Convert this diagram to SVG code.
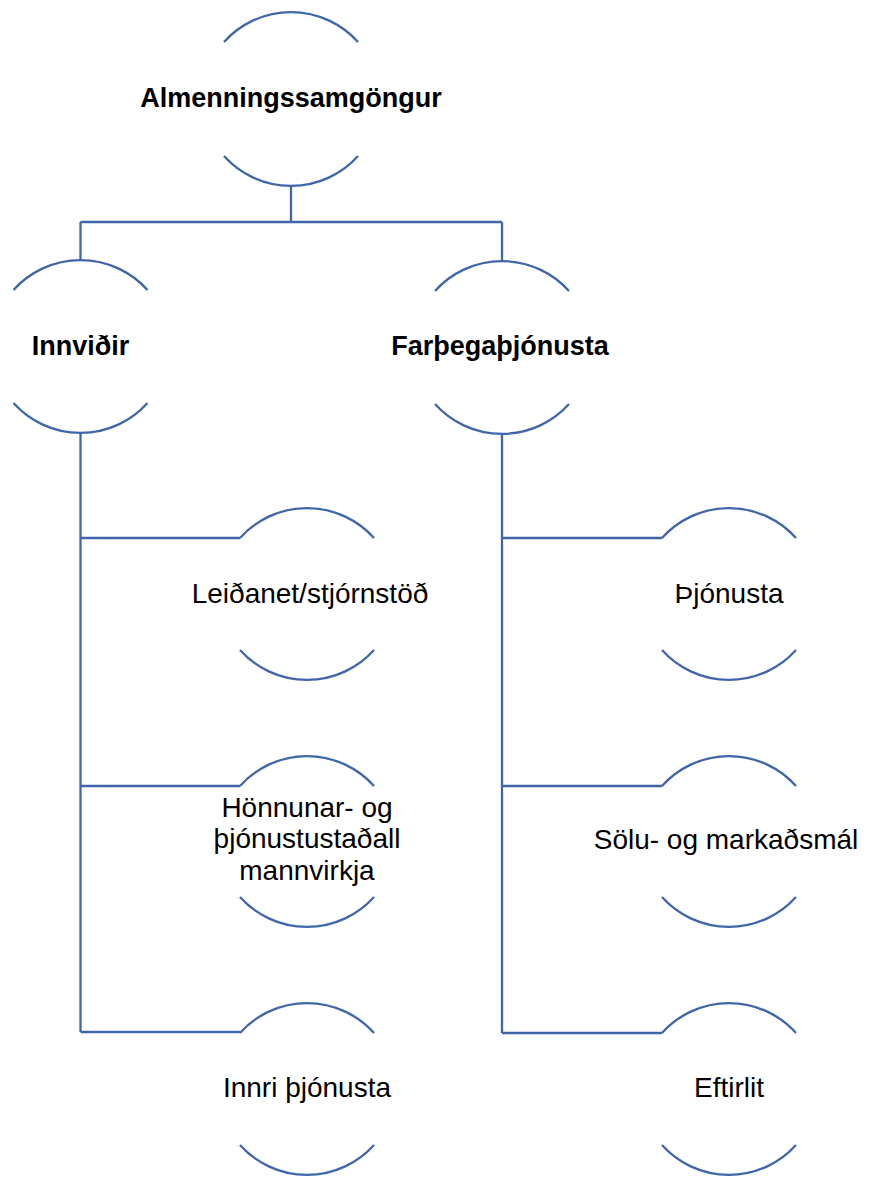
<svg xmlns="http://www.w3.org/2000/svg" width="871" height="1178" viewBox="0 0 871 1178">
<style>
.arc{fill:none;stroke:#4066AA;stroke-width:2.3}
.con{fill:none;stroke:#4066AA;stroke-width:2.3}
.b{font-family:"Liberation Sans",Arial,sans-serif;font-weight:bold;font-size:27px;fill:#000;text-anchor:middle}
.r{font-family:"Liberation Sans",Arial,sans-serif;font-size:28px;fill:#000;text-anchor:middle}
</style>
<rect width="871" height="1178" fill="#fff"/>
<g id="connectors">
<path class="con" d="M291 186V222M80.5 222H502M80.5 222V260M502 222V261"/>
<path class="con" d="M80.5 433V1032M80.5 538H240M80.5 786H240M80.5 1032H240"/>
<path class="con" d="M502 434V1033M502 538H662M502 786H662M502 1033H662"/>
</g>
<g id="n-root">
<path class="arc" d="M224 42A90 90 0 0 1 358 42"/>
<path class="arc" d="M224 156A90 90 0 0 0 358 156"/>
<text class="b" x="291" y="107">Almenningssamgöngur</text>
</g>
<g id="n-innvidir">
<path class="arc" d="M13.5 290A90 90 0 0 1 147.5 290"/>
<path class="arc" d="M13.5 403A90 90 0 0 0 147.5 403"/>
<text class="b" x="80.5" y="355">Innviðir</text>
</g>
<g id="n-farthega">
<path class="arc" d="M435 291A90 90 0 0 1 569 291"/>
<path class="arc" d="M435 404A90 90 0 0 0 569 404"/>
<text class="b" x="500" y="355">Farþegaþjónusta</text>
</g>
<g id="n-leidanet">
<path class="arc" d="M240 538A90 90 0 0 1 374 538"/>
<path class="arc" d="M240 650A90 90 0 0 0 374 650"/>
<text class="r" x="310" y="603">Leiðanet/stjórnstöð</text>
</g>
<g id="n-honnun">
<path class="arc" d="M240 786A90 90 0 0 1 374 786"/>
<path class="arc" d="M240 897A90 90 0 0 0 374 897"/>
<text class="r" x="307" y="817">Hönnunar- og</text>
<text class="r" x="307" y="848">þjónustustaðall</text>
<text class="r" x="307" y="880">mannvirkja</text>
</g>
<g id="n-innri">
<path class="arc" d="M240 1033A90 90 0 0 1 374 1033"/>
<path class="arc" d="M240 1145A90 90 0 0 0 374 1145"/>
<text class="r" x="307" y="1097">Innri þjónusta</text>
</g>
<g id="n-thjonusta">
<path class="arc" d="M662 538A90 90 0 0 1 796 538"/>
<path class="arc" d="M662 650A90 90 0 0 0 796 650"/>
<text class="r" x="729" y="603">Þjónusta</text>
</g>
<g id="n-solu">
<path class="arc" d="M662 786A90 90 0 0 1 796 786"/>
<path class="arc" d="M662 897A90 90 0 0 0 796 897"/>
<text class="r" x="726" y="849">Sölu- og markaðsmál</text>
</g>
<g id="n-eftirlit">
<path class="arc" d="M662 1033A90 90 0 0 1 796 1033"/>
<path class="arc" d="M662 1145A90 90 0 0 0 796 1145"/>
<text class="r" x="729" y="1097">Eftirlit</text>
</g>
</svg>
